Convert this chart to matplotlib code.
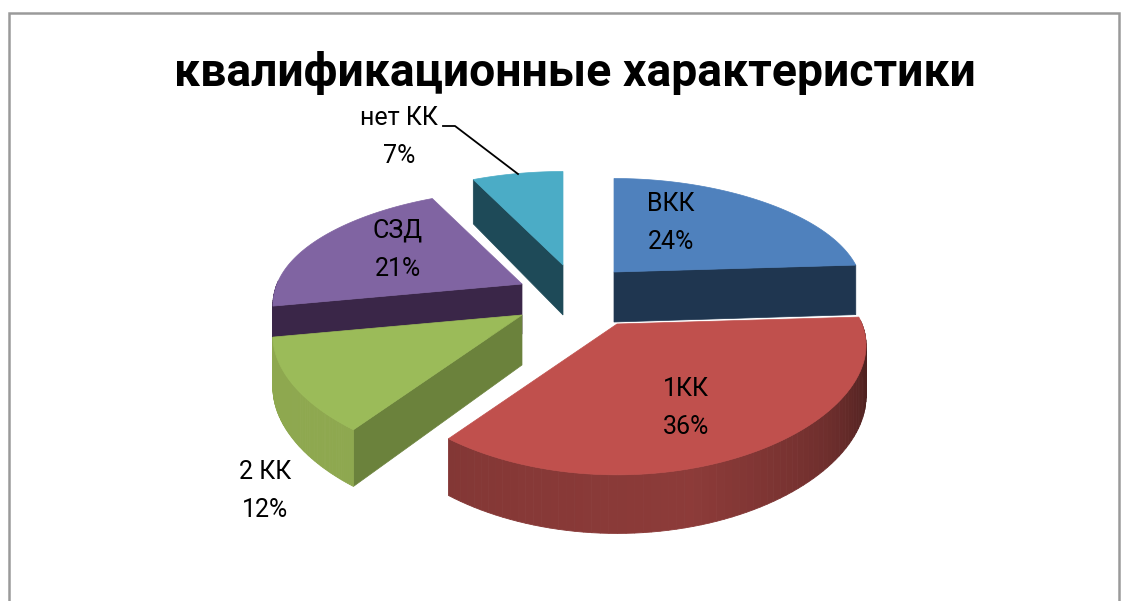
import numpy as np
import matplotlib
matplotlib.use('Agg')
import matplotlib.pyplot as plt
from matplotlib.patches import Polygon, Rectangle

# data
labels = ['ВКК', '1КК', '2 КК', 'СЗД', 'нет КК']
values = [24, 36, 12, 21, 7]
title = 'квалификационные характеристики'

# styles per slice
top_colors = ['#4f81bd', '#c0504d', '#9bbb59', '#8064a2', '#4bacc6']
side_colors = ['#1f3650', '#6b823c', '#6b823c', '#3a2648', '#1e4a58']
rim_colors = ['#1f3650', '#8a3a38', '#8ea84f', '#3a2648', '#1e4a58']
apex = [(614, 272), (617, 324), (522, 315), (522, 284), (563, 265)]
label_pos = [(671, 223), (686, 408), (265, 491), (398, 250), (399, 137)]
draw_order = [4, 0, 3, 2, 1]

RX = 245
RY = 112
DEPTH = 0.18
WALL = 50

plt.rcParams['font.family'] = ['Roboto', 'DejaVu Sans']


def project(ap, ang, r=1.0):
    # ang is clockwise from 12 o'clock, perspective makes the front bigger
    u = r * np.sin(ang)
    v = -r * np.cos(ang)
    s = 1 / (1 - DEPTH * v)
    back = 1 + 0.07 * np.clip(-v, 0, None) ** 2
    return ap[0] + RX * u * s, ap[1] + RY * v * s ** 1.5 * back, WALL * s ** 0.8


def rim_shade(i, deg):
    if i == 1:
        return np.interp(deg, [86, 105, 130, 165, 216], [0.55, 0.58, 0.8, 1.02, 0.95])
    return 1.0


fig = plt.figure(figsize=(11.29, 6.01), dpi=100)
ax = fig.add_axes([0, 0, 1, 1])
ax.set_xlim(0, 1129)
ax.set_ylim(601, 0)
ax.axis('off')

ax.add_patch(Rectangle((8.5, 12.5), 1110, 600, fc='white', ec='#9a9a9a', lw=1.8))

edges = np.cumsum([0] + values) / sum(values) * 2 * np.pi

for i in draw_order:
    a0, a1 = edges[i], edges[i + 1]
    ap = apex[i]
    ang = np.linspace(a0, a1, 80)
    x, y, h = project(ap, ang)

    # straight walls that face the viewer
    for a, normal, (ex, ey, eh) in [(a0, a0 - np.pi / 2, (x[0], y[0], h[0])),
                                    (a1, a1 + np.pi / 2, (x[-1], y[-1], h[-1]))]:
        if -np.cos(normal) > 0.01:
            ax.add_patch(Polygon([(ap[0], ap[1]), (ex, ey), (ex, ey + eh), (ap[0], ap[1] + WALL)],
                                 fc=side_colors[i], ec=side_colors[i], lw=0.5))

    # outer wall, front half only
    base = np.array(matplotlib.colors.to_rgb(rim_colors[i]))
    for k in range(len(ang) - 1):
        if -np.cos(ang[k]) < -0.02 and -np.cos(ang[k + 1]) < -0.02:
            continue
        col = np.clip(base * rim_shade(i, np.degrees(ang[k])), 0, 1)
        ax.add_patch(Polygon([(x[k], y[k]), (x[k + 1], y[k + 1]),
                              (x[k + 1], y[k + 1] + h[k + 1]), (x[k], y[k] + h[k])],
                             fc=col, ec=col, lw=0.6))

    # top
    pts = [(ap[0], ap[1])] + list(zip(x, y))
    ax.add_patch(Polygon(pts, fc=top_colors[i], ec=top_colors[i], lw=0.5))

for name, val, (lx, ly) in zip(labels, values, label_pos):
    ax.text(lx, ly, f'{name}\n{val}%', ha='center', va='center', fontsize=18,
            color='black', linespacing=1.75)

ax.plot([443, 455, 518], [126, 126, 174], color='black', lw=1.3)

ax.text(575, 86, title, ha='center', va='baseline', fontsize=33.4, fontweight='bold', color='black')

fig.savefig('out.png', dpi=100)
